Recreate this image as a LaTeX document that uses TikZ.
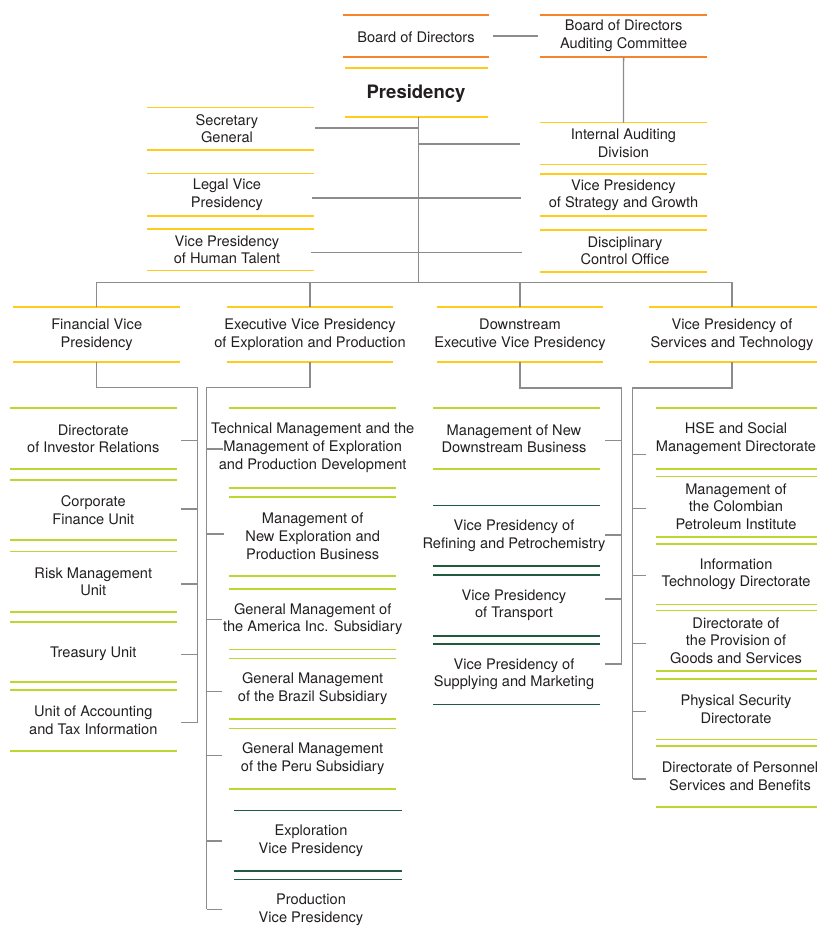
\documentclass[tikz,border=0pt]{standalone}
\usepackage{fontspec}
\setmainfont{TeX Gyre Heros}
\usetikzlibrary{calc}
\definecolor{orgc}{HTML}{F5842A}
\definecolor{ylw}{HTML}{FFCC1A}
\definecolor{grn}{HTML}{BED630}
\definecolor{dkg}{HTML}{1E5B3F}
\definecolor{lnc}{HTML}{8C8C8C}
\definecolor{txtc}{HTML}{231F20}
\newcommand\boxrules[4]{%
  \draw[rule,#2] ($(#1.north)+(-#3,0)$) -- ($(#1.north)+(#4,0)$);
  \draw[rule,#2] ($(#1.south)+(-#3,0)$) -- ($(#1.south)+(#4,0)$);}
\newcommand\toprule[4]{%
  \draw[rule,#2] ($(#1.north)+(-#3,0)$) -- ($(#1.north)+(#4,0)$);}
\newcommand\branch[4]{\draw[conn] ($(#1 -| #2)+(0,#3)$) -- ++(#4,0);}
\begin{document}
\begin{tikzpicture}[x=1pt,y=-1pt,
  obox/.style={minimum width=166pt, minimum height=#1, inner sep=0pt, align=center,
    font=\fontsize{14.6}{17.8}\selectfont, text=txtc,
    execute at begin node={\rule{0pt}{13.2pt}}},
  conn/.style={draw=lnc, line width=1.3pt},
  rule/.style={line width=1.7pt}]
\useasboundingbox (0,0) rectangle (817,935);
\clip (0,0) rectangle (817,935);

% ---- top level
\node[obox=42pt, minimum width=146.8pt, execute at begin node={}] (bod) at (416,36) {Board of Directors};
\boxrules{bod}{orgc}{73.4}{73.4}
\node[obox=42pt, execute at begin node={}] (bdac) at (623.6,36) {Board of Directors\\Auditing Committee};
\boxrules{bdac}{orgc}{83.4}{83.4}
\node[obox=49pt, minimum width=143pt, font=\fontsize{18.5}{22}\selectfont\bfseries,
  execute at begin node={\rule{0pt}{15.5pt}}] (pres) at (416,92.5) {Presidency};
\boxrules{pres}{ylw}{71.5}{71.5}

\node[obox=42pt] (sec) at (227,128.7) {Secretary\\General};
\boxrules{sec}{ylw}{80}{86.7}
\node[obox=42pt] (legal) at (227,194.7) {Legal Vice\\Presidency};
\boxrules{legal}{ylw}{80}{86.7}
\node[obox=41.3pt] (hum) at (227,249.7) {Vice Presidency\\of Human Talent};
\boxrules{hum}{ylw}{80}{86.7}

\node[obox=41.6pt] (iad) at (623.5,143.5) {Internal Auditing\\Division};
\boxrules{iad}{ylw}{83.5}{83.5}
\node[obox=41.7pt] (vps) at (623.5,195.2) {Vice Presidency\\of Strategy and Growth};
\boxrules{vps}{ylw}{83.5}{83.5}
\node[obox=41.7pt] (dco) at (625,250.8) {Disciplinary\\Control Office};
\boxrules{dco}{ylw}{85}{82}

% ---- second level
\node[obox=54.7pt] (fvp) at (96.7,334.7) {Financial Vice\\Presidency};
\boxrules{fvp}{ylw}{83.3}{83.3}
\node[obox=54.7pt] (evp) at (310,334.7) {Executive Vice Presidency\\of Exploration and Production};
\boxrules{evp}{ylw}{83.3}{83.3}
\node[obox=54.7pt] (dvp) at (520,334.7) {Downstream\\Executive Vice Presidency};
\boxrules{dvp}{ylw}{83.3}{83.3}
\node[obox=54.7pt] (vpst) at (732,334.7) {Vice Presidency of\\Services and Technology};
\boxrules{vpst}{ylw}{83}{90}

% ---- financial children
\node[obox=60.7pt] (dir) at (93.3,438.7) {Directorate\\of Investor Relations};
\boxrules{dir}{grn}{83.3}{83.3}
\node[obox=60pt] (cfu) at (93.3,510) {Corporate\\Finance Unit};
\boxrules{cfu}{grn}{83.3}{83.3}
\node[obox=60.3pt] (rmu) at (93.3,581.8) {Risk Management\\Unit};
\boxrules{rmu}{grn}{83.3}{83.3}
\node[obox=60pt] (tre) at (93.3,652) {Treasury Unit};
\boxrules{tre}{grn}{83.3}{83.3}
\node[obox=61pt] (uat) at (93.3,720.5) {Unit of Accounting\\and Tax Information};
\boxrules{uat}{grn}{83.3}{83.3}

% ---- exploration & production children
\node[obox=79.4pt] (tmg) at (312.7,448) {Technical Management and the\\Management of Exploration\\and Production Development};
\boxrules{tmg}{grn}{83.3}{83.3}
\node[obox=78.4pt] (mnep) at (312.7,536.5) {Management of\\New Exploration and\\Production Business};
\boxrules{mnep}{grn}{83.3}{83.3}
\node[obox=60.3pt] (gma) at (312.7,619.2) {General Management of\\the America Inc. Subsidiary};
\boxrules{gma}{grn}{83.3}{83.3}
\node[obox=60pt] (gmb) at (312.7,688.7) {General Management\\of the Brazil Subsidiary};
\boxrules{gmb}{grn}{83.3}{83.3}
\node[obox=60.3pt] (gmp) at (312.7,758.8) {General Management\\of the Peru Subsidiary};
\boxrules{gmp}{grn}{83.3}{83.3}
\node[obox=60.3pt] (exvp) at (311,840.8) {Exploration\\Vice Presidency};
\boxrules{exvp}{dkg}{76.7}{90.7}
\node[obox=60.3pt] (prvp) at (311,909.9) {Production\\Vice Presidency};
\toprule{prvp}{dkg}{76.7}{90.7}

% ---- downstream children
\node[obox=60.7pt] (mnd) at (514,438.7) {Management of New\\Downstream Business};
\boxrules{mnd}{grn}{80.7}{86}
\node[obox=60.3pt] (vpr) at (514,535.8) {Vice Presidency of\\Refining and Petrochemistry};
\boxrules{vpr}{dkg}{80.7}{86}
\node[obox=60.7pt] (vpt) at (514,605.3) {Vice Presidency\\of Transport};
\boxrules{vpt}{dkg}{80.7}{86}
\node[obox=60.3pt] (vpsm) at (514,674.2) {Vice Presidency of\\Supplying and Marketing};
\boxrules{vpsm}{dkg}{80.7}{86}

% ---- services & technology children
\node[obox=60.7pt] (hse) at (736,438.7) {HSE and Social\\Management Directorate};
\boxrules{hse}{grn}{80}{90}
\node[obox=60pt] (mcpi) at (736,506.7) {Management of\\the Colombian\\Petroleum Institute};
\boxrules{mcpi}{grn}{80}{90}
\node[obox=60.3pt] (itd) at (736,574.2) {Information\\Technology Directorate};
\boxrules{itd}{grn}{80}{90}
\node[obox=60pt] (dpg) at (736,640.7) {Directorate of\\the Provision of\\Goods and Services};
\boxrules{dpg}{grn}{80}{90}
\node[obox=60.3pt] (psd) at (736,709.2) {Physical Security\\Directorate};
\boxrules{psd}{grn}{80}{90}
\node[obox=60.7pt] (dps) at (740,776.4) {Directorate of Personnel\\Services and Benefits};
\boxrules{dps}{grn}{84}{86}

% ---- connectors, top
\draw[conn] ($(bod.east)+(3,0)$) -- ($(bdac.west)+(-2.6,0)$);
\draw[conn] (bdac.south) -- (iad.north);
\coordinate (bar) at (418.3,282.7);
\draw[conn] (pres.south -| bar) -- (bar);
\draw[conn] (fvp.north) |- (bar) -| (vpst.north);
\draw[conn] (evp.north) -- (evp.north |- bar);
\draw[conn] (dvp.north) -- (dvp.north |- bar);
\draw[conn] ($(sec.east)+(5,-0.7)$) -- ($(sec.east -| bar)+(0,-0.7)$);
\draw[conn] ($(iad.west -| bar)+(0,0.5)$) -- ($(iad.west)+(-20,0.5)$);
\draw[conn] ($(legal.east)+(2,3.3)$) -- ($(legal.east -| vps.west)+(-19.3,3.3)$);
\draw[conn] ($(hum.east)+(1,3)$) -- ($(hum.east -| dco.west)+(-20,3)$);

% ---- financial branch
\coordinate (fj) at (197.3,387.3);
\draw[conn] (fvp.south) |- (fj) -- ($(fj |- uat)+(0,2.2)$);
\branch{dir}{fj}{2}{-16}
\branch{cfu}{fj}{-1}{-16}
\branch{rmu}{fj}{2.2}{-16}
\branch{tre}{fj}{2.3}{-16}
\branch{uat}{fj}{2.2}{-16}

% ---- exploration & production branch
\coordinate (ej) at (206.7,387.3);
\draw[conn] (evp.south) |- (ej) -- ($(ej |- prvp)+(0,-0.6)$);
\branch{tmg}{ej}{1}{16}
\branch{mnep}{ej}{-2.5}{17}
\branch{gma}{ej}{0.5}{15}
\branch{gmb}{ej}{3}{15}
\branch{gmp}{ej}{-3.5}{15}
\branch{exvp}{ej}{0.2}{15}
\branch{prvp}{ej}{-0.6}{15}

% ---- downstream branch
\coordinate (dj) at (621.7,388);
\draw[conn] (dvp.south) |- (dj) -- ($(dj |- vpsm)+(0,-10.2)$);
\branch{mnd}{dj}{2}{-16.7}
\branch{vpr}{dj}{-0.8}{-16.7}
\branch{vpt}{dj}{-6.3}{-16.7}
\branch{vpsm}{dj}{-10.2}{-16.7}

% ---- services & technology branch
\coordinate (vj) at (632.7,388);
\draw[conn] (vpst.south) |- (vj) -- ($(vj |- dps)+(0,2.6)$);
\branch{hse}{vj}{15.6}{13.3}
\branch{mcpi}{vj}{1.6}{13.3}
\branch{itd}{vj}{1.5}{13.3}
\branch{dpg}{vj}{2.6}{13.3}
\branch{psd}{vj}{2.1}{13.3}
\branch{dps}{vj}{2.6}{13.3}
\end{tikzpicture}
\end{document}
